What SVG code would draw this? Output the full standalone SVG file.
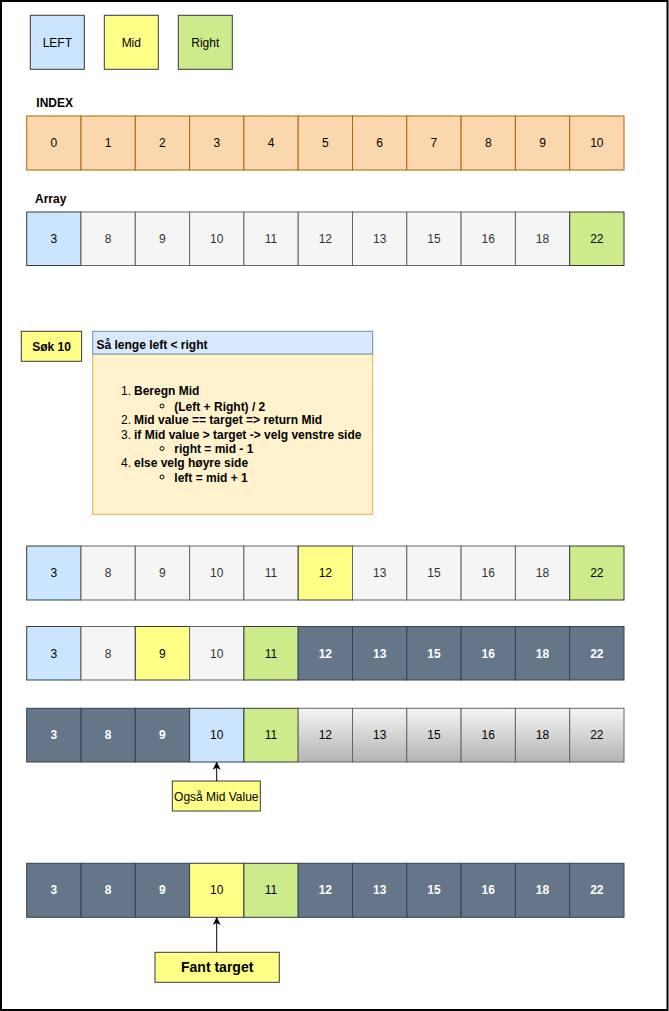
<svg xmlns="http://www.w3.org/2000/svg" width="669" height="1011" viewBox="0 0 669 1011">
  <defs>
    <style>
      text { font-family: "Liberation Sans", Arial, Helvetica, sans-serif; font-size: 12px; }
      .c { text-anchor: middle; }
      .b { font-weight: bold; }
      .idx { fill: #fad7ac; stroke: #b46504; stroke-width: 1; }
      .gry { fill: #f5f5f5; stroke: #666666; stroke-width: 1; }
      .grd { fill: url(#gradGrey); stroke: #666666; stroke-width: 1; }
      .drk { fill: #647687; stroke: #314354; stroke-width: 1; }
      .blu { fill: #cce5ff; stroke: #36393d; stroke-width: 1; }
      .yel { fill: #ffff88; stroke: #36393d; stroke-width: 1; }
      .grn { fill: #cdeb8b; stroke: #36393d; stroke-width: 1; }
      .tk { fill: #000000; }
      .tg { fill: #333333; }
      .tw { fill: #ffffff; font-weight: bold; }
      .edge { stroke: #000000; stroke-width: 1; fill: none; }
    </style>
    <linearGradient id="gradGrey" x1="0" y1="0" x2="0" y2="1">
      <stop offset="0" stop-color="#f5f5f5"/>
      <stop offset="1" stop-color="#b3b3b3"/>
    </linearGradient>
    <marker id="arrowHead" viewBox="0 0 10 10" refX="9" refY="5" markerWidth="8" markerHeight="8" markerUnits="userSpaceOnUse" orient="auto">
      <path d="M0,0 L10,5 L0,10 L2.5,5 Z" fill="#000000"/>
    </marker>
  </defs>

  <rect x="0" y="0" width="669" height="1011" fill="#ffffff"/>
  <rect x="1" y="1" width="666.5" height="1009" fill="none" stroke="#000000" stroke-width="2"/>

  <!-- legend -->
  <g id="legend-left"><rect class="blu" x="30.3" y="15.3" width="54" height="54"/><text class="c tk" x="57.3" y="46.5" fill="#1a1a1a">LEFT</text></g>
  <g id="legend-mid"><rect class="yel" x="104.3" y="15.3" width="54" height="54"/><text class="c tk" x="131.3" y="46.5">Mid</text></g>
  <g id="legend-right"><rect class="grn" x="178.3" y="15.3" width="54" height="54"/><text class="c tk" x="205.3" y="46.5">Right</text></g>

  <!-- labels -->
  <g id="label-index"><text class="b" x="36.3" y="107">INDEX</text></g>
  <g id="label-array"><text class="b" x="35" y="203">Array</text></g>

  <!-- index row -->
  <g id="index-row">
    <g id="idx-0"><rect class="idx" x="26.7" y="116" width="54.3" height="54"/><text class="c tk" x="53.85" y="147">0</text></g>
    <g id="idx-1"><rect class="idx" x="81" y="116" width="54.3" height="54"/><text class="c tk" x="108.15" y="147">1</text></g>
    <g id="idx-2"><rect class="idx" x="135.3" y="116" width="54.3" height="54"/><text class="c tk" x="162.45" y="147">2</text></g>
    <g id="idx-3"><rect class="idx" x="189.6" y="116" width="54.3" height="54"/><text class="c tk" x="216.75" y="147">3</text></g>
    <g id="idx-4"><rect class="idx" x="243.9" y="116" width="54.3" height="54"/><text class="c tk" x="271.05" y="147">4</text></g>
    <g id="idx-5"><rect class="idx" x="298.2" y="116" width="54.3" height="54"/><text class="c tk" x="325.35" y="147">5</text></g>
    <g id="idx-6"><rect class="idx" x="352.5" y="116" width="54.3" height="54"/><text class="c tk" x="379.65" y="147">6</text></g>
    <g id="idx-7"><rect class="idx" x="406.8" y="116" width="54.3" height="54"/><text class="c tk" x="433.95" y="147">7</text></g>
    <g id="idx-8"><rect class="idx" x="461.1" y="116" width="54.3" height="54"/><text class="c tk" x="488.25" y="147">8</text></g>
    <g id="idx-9"><rect class="idx" x="515.4" y="116" width="54.3" height="54"/><text class="c tk" x="542.55" y="147">9</text></g>
    <g id="idx-10"><rect class="idx" x="569.7" y="116" width="54.3" height="54"/><text class="c tk" x="596.85" y="147">10</text></g>
  </g>

  <!-- array row -->
  <g id="array-row">
    <g id="arr-0"><rect class="blu" x="26.7" y="212" width="54.3" height="53.5"/><text class="c tk" x="53.85" y="242.7">3</text></g>
    <g id="arr-1"><rect class="gry" x="81" y="212" width="54.3" height="53.5"/><text class="c tg" x="108.15" y="242.7">8</text></g>
    <g id="arr-2"><rect class="gry" x="135.3" y="212" width="54.3" height="53.5"/><text class="c tg" x="162.45" y="242.7">9</text></g>
    <g id="arr-3"><rect class="gry" x="189.6" y="212" width="54.3" height="53.5"/><text class="c tg" x="216.75" y="242.7">10</text></g>
    <g id="arr-4"><rect class="gry" x="243.9" y="212" width="54.3" height="53.5"/><text class="c tg" x="271.05" y="242.7">11</text></g>
    <g id="arr-5"><rect class="gry" x="298.2" y="212" width="54.3" height="53.5"/><text class="c tg" x="325.35" y="242.7">12</text></g>
    <g id="arr-6"><rect class="gry" x="352.5" y="212" width="54.3" height="53.5"/><text class="c tg" x="379.65" y="242.7">13</text></g>
    <g id="arr-7"><rect class="gry" x="406.8" y="212" width="54.3" height="53.5"/><text class="c tg" x="433.95" y="242.7">15</text></g>
    <g id="arr-8"><rect class="gry" x="461.1" y="212" width="54.3" height="53.5"/><text class="c tg" x="488.25" y="242.7">16</text></g>
    <g id="arr-9"><rect class="gry" x="515.4" y="212" width="54.3" height="53.5"/><text class="c tg" x="542.55" y="242.7">18</text></g>
    <g id="arr-10"><rect class="grn" x="569.7" y="212" width="54.3" height="53.5"/><text class="c tk" x="596.85" y="242.7">22</text></g>
  </g>

  <!-- search target -->
  <g id="search-box"><rect class="yel" x="21.3" y="331.3" width="60.3" height="30"/><text class="c b tk" x="51.5" y="350.5">Søk 10</text></g>

  <!-- algorithm panel -->
  <g id="algorithm">
    <rect x="92.7" y="354" width="280" height="160.3" fill="#fff2cc" stroke="#d6b656" stroke-width="1"/>
    <rect x="92.7" y="331.3" width="280" height="22.7" fill="#dae8fc" stroke="#6c8ebf" stroke-width="1"/>
    <text class="b tk" x="96.5" y="348.5">Så lenge left &lt; right</text>
    <text class="tk" x="121" y="395">1.</text><text class="b tk" x="134" y="395">Beregn Mid</text>
    <circle cx="162" cy="406" r="2" fill="none" stroke="#000" stroke-width="1"/><text class="b tk" x="174.3" y="410.5">(Left + Right) / 2</text>
    <text class="tk" x="121" y="424">2.</text><text class="b tk" x="134" y="424">Mid value == target =&gt; return Mid</text>
    <text class="tk" x="121" y="438.5">3.</text><text class="b tk" x="134" y="438.5">if Mid value &gt; target -&gt; velg venstre side</text>
    <circle cx="162" cy="448.5" r="2" fill="none" stroke="#000" stroke-width="1"/><text class="b tk" x="174.3" y="453">right = mid - 1</text>
    <text class="tk" x="121" y="467">4.</text><text class="b tk" x="134" y="467">else velg høyre side</text>
    <circle cx="162" cy="477" r="2" fill="none" stroke="#000" stroke-width="1"/><text class="b tk" x="174.3" y="481.5">left = mid + 1</text>
  </g>

  <!-- step 1 -->
  <g id="step1-row">
    <g id="s1-0"><rect class="blu" x="26.7" y="546" width="54.3" height="54"/><text class="c tk" x="53.85" y="577">3</text></g>
    <g id="s1-1"><rect class="gry" x="81" y="546" width="54.3" height="54"/><text class="c tg" x="108.15" y="577">8</text></g>
    <g id="s1-2"><rect class="gry" x="135.3" y="546" width="54.3" height="54"/><text class="c tg" x="162.45" y="577">9</text></g>
    <g id="s1-3"><rect class="gry" x="189.6" y="546" width="54.3" height="54"/><text class="c tg" x="216.75" y="577">10</text></g>
    <g id="s1-4"><rect class="gry" x="243.9" y="546" width="54.3" height="54"/><text class="c tg" x="271.05" y="577">11</text></g>
    <g id="s1-5"><rect class="yel" x="298.2" y="546" width="54.3" height="54"/><text class="c tk" x="325.35" y="577">12</text></g>
    <g id="s1-6"><rect class="gry" x="352.5" y="546" width="54.3" height="54"/><text class="c tg" x="379.65" y="577">13</text></g>
    <g id="s1-7"><rect class="gry" x="406.8" y="546" width="54.3" height="54"/><text class="c tg" x="433.95" y="577">15</text></g>
    <g id="s1-8"><rect class="gry" x="461.1" y="546" width="54.3" height="54"/><text class="c tg" x="488.25" y="577">16</text></g>
    <g id="s1-9"><rect class="gry" x="515.4" y="546" width="54.3" height="54"/><text class="c tg" x="542.55" y="577">18</text></g>
    <g id="s1-10"><rect class="grn" x="569.7" y="546" width="54.3" height="54"/><text class="c tk" x="596.85" y="577">22</text></g>
  </g>

  <!-- step 2 -->
  <g id="step2-row">
    <g id="s2-0"><rect class="blu" x="26.7" y="626.5" width="54.3" height="53.5"/><text class="c tk" x="53.85" y="657.5">3</text></g>
    <g id="s2-1"><rect class="gry" x="81" y="626.5" width="54.3" height="53.5"/><text class="c tg" x="108.15" y="657.5">8</text></g>
    <g id="s2-2"><rect class="yel" x="135.3" y="626.5" width="54.3" height="53.5"/><text class="c tk" x="162.45" y="657.5">9</text></g>
    <g id="s2-3"><rect class="gry" x="189.6" y="626.5" width="54.3" height="53.5"/><text class="c tg" x="216.75" y="657.5">10</text></g>
    <g id="s2-4"><rect class="grn" x="243.9" y="626.5" width="54.3" height="53.5"/><text class="c tk" x="271.05" y="657.5">11</text></g>
    <g id="s2-5"><rect class="drk" x="298.2" y="626.5" width="54.3" height="53.5"/><text class="c tw" x="325.35" y="657.5">12</text></g>
    <g id="s2-6"><rect class="drk" x="352.5" y="626.5" width="54.3" height="53.5"/><text class="c tw" x="379.65" y="657.5">13</text></g>
    <g id="s2-7"><rect class="drk" x="406.8" y="626.5" width="54.3" height="53.5"/><text class="c tw" x="433.95" y="657.5">15</text></g>
    <g id="s2-8"><rect class="drk" x="461.1" y="626.5" width="54.3" height="53.5"/><text class="c tw" x="488.25" y="657.5">16</text></g>
    <g id="s2-9"><rect class="drk" x="515.4" y="626.5" width="54.3" height="53.5"/><text class="c tw" x="542.55" y="657.5">18</text></g>
    <g id="s2-10"><rect class="drk" x="569.7" y="626.5" width="54.3" height="53.5"/><text class="c tw" x="596.85" y="657.5">22</text></g>
  </g>

  <!-- step 3 -->
  <g id="step3-row">
    <g id="s3-0"><rect class="drk" x="26.7" y="708.3" width="54.3" height="53.7"/><text class="c tw" x="53.85" y="739.3">3</text></g>
    <g id="s3-1"><rect class="drk" x="81" y="708.3" width="54.3" height="53.7"/><text class="c tw" x="108.15" y="739.3">8</text></g>
    <g id="s3-2"><rect class="drk" x="135.3" y="708.3" width="54.3" height="53.7"/><text class="c tw" x="162.45" y="739.3">9</text></g>
    <g id="s3-3"><rect class="blu" x="189.6" y="708.3" width="54.3" height="53.7"/><text class="c tk" x="216.75" y="739.3">10</text></g>
    <g id="s3-4"><rect class="grn" x="243.9" y="708.3" width="54.3" height="53.7"/><text class="c tk" x="271.05" y="739.3">11</text></g>
    <g id="s3-5"><rect class="grd" x="298.2" y="708.3" width="54.3" height="53.7"/><text class="c tk" x="325.35" y="739.3">12</text></g>
    <g id="s3-6"><rect class="grd" x="352.5" y="708.3" width="54.3" height="53.7"/><text class="c tk" x="379.65" y="739.3">13</text></g>
    <g id="s3-7"><rect class="grd" x="406.8" y="708.3" width="54.3" height="53.7"/><text class="c tk" x="433.95" y="739.3">15</text></g>
    <g id="s3-8"><rect class="grd" x="461.1" y="708.3" width="54.3" height="53.7"/><text class="c tk" x="488.25" y="739.3">16</text></g>
    <g id="s3-9"><rect class="grd" x="515.4" y="708.3" width="54.3" height="53.7"/><text class="c tk" x="542.55" y="739.3">18</text></g>
    <g id="s3-10"><rect class="grd" x="569.7" y="708.3" width="54.3" height="53.7"/><text class="c tk" x="596.85" y="739.3">22</text></g>
  </g>

  <g id="note-mid"><rect class="yel" x="172.3" y="781" width="88" height="30"/><text class="c tk" x="216.3" y="800.5">Også Mid Value</text></g>

  <!-- step 4 -->
  <g id="step4-row">
    <g id="s4-0"><rect class="drk" x="26.7" y="863.3" width="54.3" height="54"/><text class="c tw" x="53.85" y="894.3">3</text></g>
    <g id="s4-1"><rect class="drk" x="81" y="863.3" width="54.3" height="54"/><text class="c tw" x="108.15" y="894.3">8</text></g>
    <g id="s4-2"><rect class="drk" x="135.3" y="863.3" width="54.3" height="54"/><text class="c tw" x="162.45" y="894.3">9</text></g>
    <g id="s4-3"><rect class="yel" x="189.6" y="863.3" width="54.3" height="54"/><text class="c tk" x="216.75" y="894.3">10</text></g>
    <g id="s4-4"><rect class="grn" x="243.9" y="863.3" width="54.3" height="54"/><text class="c tk" x="271.05" y="894.3">11</text></g>
    <g id="s4-5"><rect class="drk" x="298.2" y="863.3" width="54.3" height="54"/><text class="c tw" x="325.35" y="894.3">12</text></g>
    <g id="s4-6"><rect class="drk" x="352.5" y="863.3" width="54.3" height="54"/><text class="c tw" x="379.65" y="894.3">13</text></g>
    <g id="s4-7"><rect class="drk" x="406.8" y="863.3" width="54.3" height="54"/><text class="c tw" x="433.95" y="894.3">15</text></g>
    <g id="s4-8"><rect class="drk" x="461.1" y="863.3" width="54.3" height="54"/><text class="c tw" x="488.25" y="894.3">16</text></g>
    <g id="s4-9"><rect class="drk" x="515.4" y="863.3" width="54.3" height="54"/><text class="c tw" x="542.55" y="894.3">18</text></g>
    <g id="s4-10"><rect class="drk" x="569.7" y="863.3" width="54.3" height="54"/><text class="c tw" x="596.85" y="894.3">22</text></g>
  </g>

  <g id="note-found"><rect class="yel" x="155" y="952.3" width="124.3" height="30"/><text class="c b tk" x="217.2" y="972" style="font-size:14px">Fant target</text></g>

  <!-- connectors -->
  <g id="connectors">
    <line class="edge" x1="216.7" y1="781" x2="216.7" y2="762.5" marker-end="url(#arrowHead)"/>
    <line class="edge" x1="216.7" y1="952.3" x2="216.7" y2="917.8" marker-end="url(#arrowHead)"/>
  </g>
</svg>
